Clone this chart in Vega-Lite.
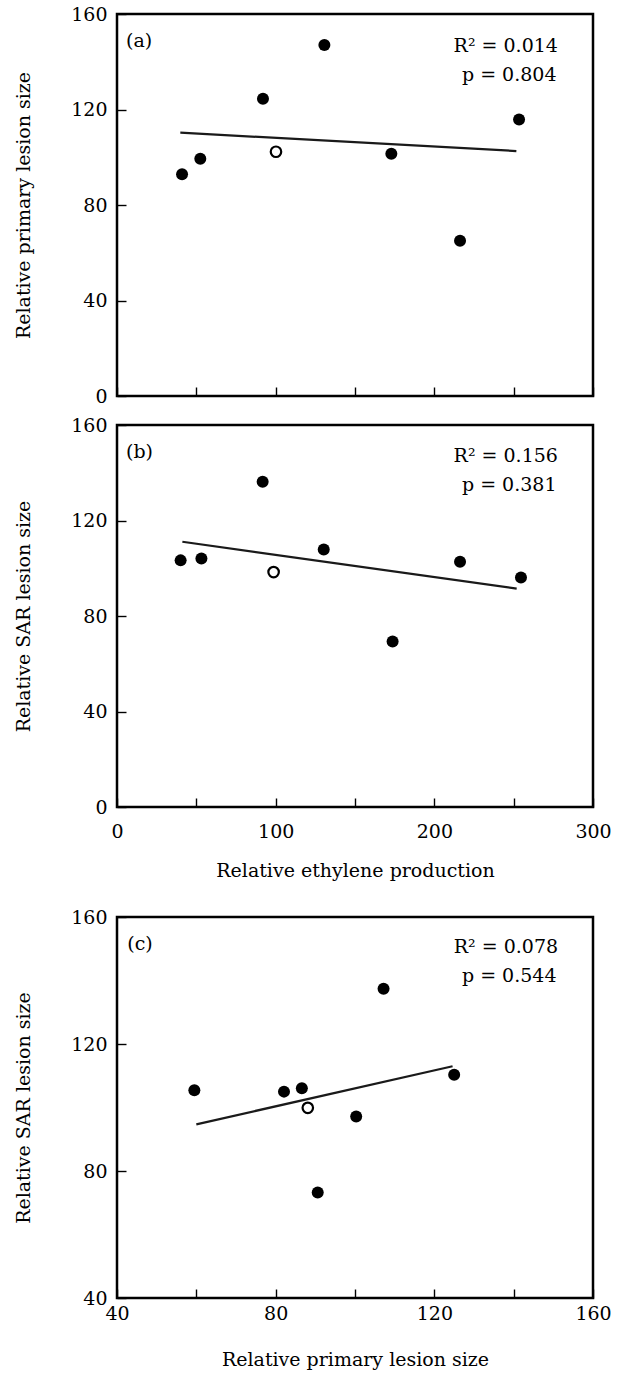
{
  "$schema": "https://vega.github.io/schema/vega-lite/v6.json",
  "padding": {"left": 12, "top": 3, "right": 5, "bottom": 4},
  "background": "white",
  "config": {
    "font": "DejaVu Serif",
    "view": {"stroke": "black", "strokeWidth": 2.5},
    "axis": {
      "domain": false, "grid": false,
      "tickColor": "black", "tickWidth": 1.4, "tickSize": 9, "offset": -9,
      "labelColor": "black", "labelFontSize": 19, "labelFont": "DejaVu Serif",
      "labelFlush": false, "labelOverlap": false,
      "titleFont": "DejaVu Serif", "titleFontSize": 19, "titleFontWeight": "normal", "titleColor": "black"
    },
    "axisY": {"labelPadding": 10, "titlePadding": 37.5},
    "text": {"font": "DejaVu Serif", "fontSize": 19, "fill": "black"}
  },
  "datasets": {
    "a_pts": [
      {"x": 41.0, "y": 92.9, "g": "mutant"},
      {"x": 52.5, "y": 99.4, "g": "mutant"},
      {"x": 92.0, "y": 124.5, "g": "mutant"},
      {"x": 100.2, "y": 102.3, "g": "control"},
      {"x": 130.7, "y": 147.0, "g": "mutant"},
      {"x": 172.9, "y": 101.5, "g": "mutant"},
      {"x": 216.2, "y": 65.0, "g": "mutant"},
      {"x": 253.4, "y": 115.8, "g": "mutant"}
    ],
    "a_fit": [{"x": 39.9, "y": 110.3}, {"x": 251.7, "y": 102.6}],
    "b_pts": [
      {"x": 40.1, "y": 103.3, "g": "mutant"},
      {"x": 53.2, "y": 104.1, "g": "mutant"},
      {"x": 91.8, "y": 136.2, "g": "mutant"},
      {"x": 98.7, "y": 98.4, "g": "control"},
      {"x": 130.3, "y": 107.9, "g": "mutant"},
      {"x": 173.7, "y": 69.3, "g": "mutant"},
      {"x": 216.2, "y": 102.7, "g": "mutant"},
      {"x": 254.6, "y": 96.1, "g": "mutant"}
    ],
    "b_fit": [{"x": 41.2, "y": 111.1}, {"x": 251.9, "y": 91.5}],
    "c_pts": [
      {"x": 59.5, "y": 105.4, "g": "mutant"},
      {"x": 82.1, "y": 105.0, "g": "mutant"},
      {"x": 86.6, "y": 106.1, "g": "mutant"},
      {"x": 88.1, "y": 99.9, "g": "control"},
      {"x": 100.3, "y": 97.2, "g": "mutant"},
      {"x": 90.6, "y": 73.2, "g": "mutant"},
      {"x": 107.2, "y": 137.4, "g": "mutant"},
      {"x": 125.0, "y": 110.3, "g": "mutant"}
    ],
    "c_fit": [{"x": 60.0, "y": 94.7}, {"x": 124.6, "y": 113.0}],
    "a_note": [{"panel": "(a)", "r2": "R² = 0.014", "p": "p = 0.804"}],
    "b_note": [{"panel": "(b)", "r2": "R² = 0.156", "p": "p = 0.381"}],
    "c_note": [{"panel": "(c)", "r2": "R² = 0.078", "p": "p = 0.544"}]
  },
  "spacing": 24,
  "vconcat": [
    {
      "spacing": 6,
      "vconcat": [
        {
          "width": 476, "height": 382,
          "layer": [
            {"data": {"name": "a_fit"}, "mark": {"type": "line", "color": "#1a1a1a", "strokeWidth": 2.2},
             "encoding": {
               "x": {"field": "x", "type": "quantitative", "scale": {"domain": [0, 300], "nice": false, "zero": false},
                     "axis": {"values": [0, 50, 100, 150, 200, 250, 300], "labels": false, "title": null}},
               "y": {"field": "y", "type": "quantitative", "scale": {"domain": [0, 160], "nice": false, "zero": false},
                     "axis": {"values": [0, 40, 80, 120, 160], "title": "Relative primary lesion size"}}
             }},
            {"data": {"name": "a_pts"}, "transform": [{"filter": "datum.g === 'mutant'"}],
             "mark": {"type": "circle", "size": 144, "color": "black", "opacity": 1},
             "encoding": {"x": {"field": "x", "type": "quantitative"}, "y": {"field": "y", "type": "quantitative"}}},
            {"data": {"name": "a_pts"}, "transform": [{"filter": "datum.g === 'control'"}],
             "mark": {"type": "circle", "size": 110, "fill": "white", "stroke": "black", "strokeWidth": 2.2, "opacity": 1},
             "encoding": {"x": {"field": "x", "type": "quantitative"}, "y": {"field": "y", "type": "quantitative"}}},
            {"data": {"name": "a_note"},
             "mark": {"type": "text", "align": "left", "baseline": "alphabetic"},
             "encoding": {"text": {"field": "panel", "type": "nominal"}, "x": {"datum": 5.7, "type": "quantitative"}, "y": {"datum": 146.3, "type": "quantitative"}}},
            {"data": {"name": "a_note"},
             "mark": {"type": "text", "align": "right", "baseline": "alphabetic"},
             "encoding": {"text": {"field": "r2", "type": "nominal"}, "x": {"datum": 277.9, "type": "quantitative"}, "y": {"datum": 144.1, "type": "quantitative"}}},
            {"data": {"name": "a_note"},
             "mark": {"type": "text", "align": "right", "baseline": "alphabetic"},
             "encoding": {"text": {"field": "p", "type": "nominal"}, "x": {"datum": 277.0, "type": "quantitative"}, "y": {"datum": 132.0, "type": "quantitative"}}}
          ]
        },
        {
          "width": 476, "height": 382,
          "layer": [
            {"data": {"name": "b_fit"}, "mark": {"type": "line", "color": "#1a1a1a", "strokeWidth": 2.2},
             "encoding": {
               "x": {"field": "x", "type": "quantitative", "scale": {"domain": [0, 300], "nice": false, "zero": false},
                     "axis": {"values": [0, 50, 100, 150, 200, 250, 300], "labelExpr": "datum.value % 100 === 0 ? datum.label : ''",
                              "labelPadding": 15, "titlePadding": 20, "title": "Relative ethylene production"}},
               "y": {"field": "y", "type": "quantitative", "scale": {"domain": [0, 160], "nice": false, "zero": false},
                     "axis": {"values": [0, 40, 80, 120, 160], "title": "Relative SAR lesion size"}}
             }},
            {"data": {"name": "b_pts"}, "transform": [{"filter": "datum.g === 'mutant'"}],
             "mark": {"type": "circle", "size": 144, "color": "black", "opacity": 1},
             "encoding": {"x": {"field": "x", "type": "quantitative"}, "y": {"field": "y", "type": "quantitative"}}},
            {"data": {"name": "b_pts"}, "transform": [{"filter": "datum.g === 'control'"}],
             "mark": {"type": "circle", "size": 110, "fill": "white", "stroke": "black", "strokeWidth": 2.2, "opacity": 1},
             "encoding": {"x": {"field": "x", "type": "quantitative"}, "y": {"field": "y", "type": "quantitative"}}},
            {"data": {"name": "b_note"},
             "mark": {"type": "text", "align": "left", "baseline": "alphabetic"},
             "encoding": {"text": {"field": "panel", "type": "nominal"}, "x": {"datum": 5.7, "type": "quantitative"}, "y": {"datum": 146.2, "type": "quantitative"}}},
            {"data": {"name": "b_note"},
             "mark": {"type": "text", "align": "right", "baseline": "alphabetic"},
             "encoding": {"text": {"field": "r2", "type": "nominal"}, "x": {"datum": 277.9, "type": "quantitative"}, "y": {"datum": 144.4, "type": "quantitative"}}},
            {"data": {"name": "b_note"},
             "mark": {"type": "text", "align": "right", "baseline": "alphabetic"},
             "encoding": {"text": {"field": "p", "type": "nominal"}, "x": {"datum": 277.0, "type": "quantitative"}, "y": {"datum": 132.3, "type": "quantitative"}}}
          ]
        }
      ]
    },
    {
      "width": 476, "height": 381,
      "layer": [
        {"data": {"name": "c_fit"}, "mark": {"type": "line", "color": "#1a1a1a", "strokeWidth": 2.2},
         "encoding": {
           "x": {"field": "x", "type": "quantitative", "scale": {"domain": [40, 160], "nice": false, "zero": false},
                 "axis": {"values": [40, 60, 80, 100, 120, 140, 160], "labelExpr": "datum.value % 40 === 0 ? datum.label : ''",
                          "labelPadding": 6, "titlePadding": 27.8, "title": "Relative primary lesion size"}},
           "y": {"field": "y", "type": "quantitative", "scale": {"domain": [40, 160], "nice": false, "zero": false},
                 "axis": {"values": [40, 80, 120, 160], "title": "Relative SAR lesion size"}}
         }},
        {"data": {"name": "c_pts"}, "transform": [{"filter": "datum.g === 'mutant'"}],
         "mark": {"type": "circle", "size": 144, "color": "black", "opacity": 1},
         "encoding": {"x": {"field": "x", "type": "quantitative"}, "y": {"field": "y", "type": "quantitative"}}},
        {"data": {"name": "c_pts"}, "transform": [{"filter": "datum.g === 'control'"}],
         "mark": {"type": "circle", "size": 110, "fill": "white", "stroke": "black", "strokeWidth": 2.2, "opacity": 1},
         "encoding": {"x": {"field": "x", "type": "quantitative"}, "y": {"field": "y", "type": "quantitative"}}},
        {"data": {"name": "c_note"},
         "mark": {"type": "text", "align": "left", "baseline": "alphabetic"},
         "encoding": {"text": {"field": "panel", "type": "nominal"}, "x": {"datum": 42.6, "type": "quantitative"}, "y": {"datum": 149.6, "type": "quantitative"}}},
        {"data": {"name": "c_note"},
         "mark": {"type": "text", "align": "right", "baseline": "alphabetic"},
         "encoding": {"text": {"field": "r2", "type": "nominal"}, "x": {"datum": 151.2, "type": "quantitative"}, "y": {"datum": 148.6, "type": "quantitative"}}},
        {"data": {"name": "c_note"},
         "mark": {"type": "text", "align": "right", "baseline": "alphabetic"},
         "encoding": {"text": {"field": "p", "type": "nominal"}, "x": {"datum": 150.8, "type": "quantitative"}, "y": {"datum": 139.5, "type": "quantitative"}}}
      ]
    }
  ]
}
